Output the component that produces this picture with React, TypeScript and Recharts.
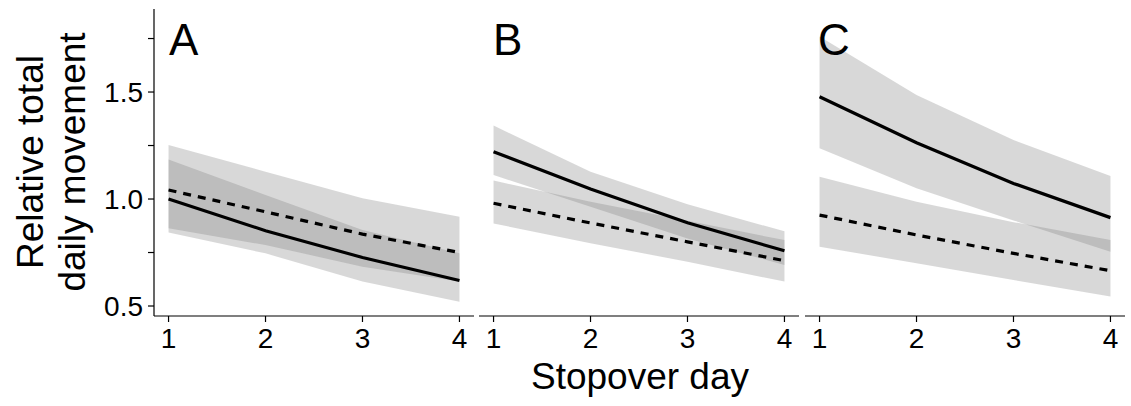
import { ComposedChart, Area, Line, XAxis, YAxis } from 'recharts';

const FONT = '"Liberation Sans", Arial, Helvetica, sans-serif';

// stopover days shared by every panel
const days = [1, 2, 3, 4];
const dayTicks = [1, 2, 3, 4];
const yTicks = [0.5, 0.75, 1, 1.25, 1.5, 1.75];
const yLabelled = [0.5, 1, 1.5];

// panel A
const solidA = [1.0, 0.852, 0.727, 0.619];
const solidLoA = [0.843, 0.746, 0.614, 0.52];
const solidHiA = [1.185, 1.019, 0.855, 0.746];
const dashedA = [1.042, 0.94, 0.836, 0.75];
const dashedLoA = [0.863, 0.785, 0.684, 0.615];
const dashedHiA = [1.252, 1.128, 1.003, 0.917];

// panel B
const solidB = [1.221, 1.047, 0.889, 0.758];
const solidLoB = [1.112, 0.964, 0.816, 0.692];
const solidHiB = [1.343, 1.128, 0.975, 0.849];
const dashedB = [0.98, 0.888, 0.8, 0.712];
const dashedLoB = [0.886, 0.793, 0.707, 0.614];
const dashedHiB = [1.086, 0.987, 0.898, 0.808];

// panel C
const solidC = [1.478, 1.263, 1.073, 0.913];
const solidLoC = [1.237, 1.05, 0.9, 0.754];
const solidHiC = [1.76, 1.486, 1.276, 1.107];
const dashedC = [0.925, 0.832, 0.746, 0.665];
const dashedLoC = [0.777, 0.7, 0.621, 0.545];
const dashedHiC = [1.104, 0.987, 0.892, 0.808];

const buildRows = (
  solid: number[], solidLo: number[], solidHi: number[],
  dashed: number[], dashedLo: number[], dashedHi: number[]
) =>
  days.map((day, i) => ({
    day,
    solid: solid[i],
    solidBand: [solidLo[i], solidHi[i]],
    dashed: dashed[i],
    dashedBand: [dashedLo[i], dashedHi[i]],
  }));

const panels = [
  { label: 'A', left: 0, width: 474, showY: true, labelX: 169, rows: buildRows(solidA, solidLoA, solidHiA, dashedA, dashedLoA, dashedHiA) },
  { label: 'B', left: 479, width: 320, showY: false, labelX: 493, rows: buildRows(solidB, solidLoB, solidHiB, dashedB, dashedLoB, dashedHiB) },
  { label: 'C', left: 805, width: 320, showY: false, labelX: 818, rows: buildRows(solidC, solidLoC, solidHiC, dashedC, dashedLoC, dashedHiC) },
];

const axisStroke = { stroke: '#000', strokeWidth: 1.2 };

function Panel({ p }: { p: (typeof panels)[number] }) {
  return (
    <div style={{ position: 'absolute', left: p.left, top: 0 }}>
      <ComposedChart
        width={p.width}
        height={406}
        data={p.rows}
        margin={{ top: 9, right: 0, bottom: 0, left: 0 }}
      >
        <XAxis
          dataKey="day"
          type="number"
          domain={[0.85, 4.15]}
          allowDataOverflow
          ticks={dayTicks}
          interval={0}
          height={90}
          tickSize={6}
          tickMargin={6}
          axisLine={axisStroke}
          tickLine={axisStroke}
          tick={{ fill: '#000', fontSize: 28, fontFamily: FONT }}
        />
        <YAxis
          type="number"
          domain={[0.4533, 1.888]}
          allowDataOverflow
          ticks={yTicks}
          interval={0}
          hide={!p.showY}
          width={154}
          tickSize={6}
          tickMargin={5}
          axisLine={axisStroke}
          tickLine={axisStroke}
          tick={{ fill: '#000', fontSize: 28, fontFamily: FONT }}
          tickFormatter={(v: number) => (yLabelled.includes(v) ? v.toFixed(1) : '')}
        />
        <Area
          type="linear"
          dataKey="solidBand"
          fill="#7f7f7f"
          fillOpacity={0.3}
          stroke="none"
          activeDot={false}
          isAnimationActive={false}
        />
        <Area
          type="linear"
          dataKey="dashedBand"
          fill="#7f7f7f"
          fillOpacity={0.3}
          stroke="none"
          activeDot={false}
          isAnimationActive={false}
        />
        <Line
          type="linear"
          dataKey="solid"
          stroke="#000"
          strokeWidth={3.2}
          dot={false}
          activeDot={false}
          isAnimationActive={false}
        />
        <Line
          type="linear"
          dataKey="dashed"
          stroke="#000"
          strokeWidth={3.2}
          strokeDasharray="8 7"
          dot={false}
          activeDot={false}
          isAnimationActive={false}
        />
      </ComposedChart>
    </div>
  );
}

export default function App() {
  return (
    <div style={{ position: 'absolute', left: 0, top: 0, width: 1131, height: 406, background: '#fff', fontFamily: FONT }}>
      {panels.map((p) => (
        <Panel key={p.label} p={p} />
      ))}
      <svg width={1131} height={406} style={{ position: 'absolute', left: 0, top: 0, pointerEvents: 'none' }}>
        {panels.map((p) => (
          <text key={p.label} x={p.labelX} y={55} fontSize={44} fontFamily={FONT} fill="#000">
            {p.label}
          </text>
        ))}
        <text x={640} y={389} fontSize={37} fontFamily={FONT} fill="#000" textAnchor="middle">
          Stopover day
        </text>
        <text transform="translate(43,162) rotate(-90)" fontSize={37} fontFamily={FONT} fill="#000" textAnchor="middle">
          Relative total
        </text>
        <text transform="translate(85,162) rotate(-90)" fontSize={37} fontFamily={FONT} fill="#000" textAnchor="middle">
          daily movement
        </text>
      </svg>
    </div>
  );
}
